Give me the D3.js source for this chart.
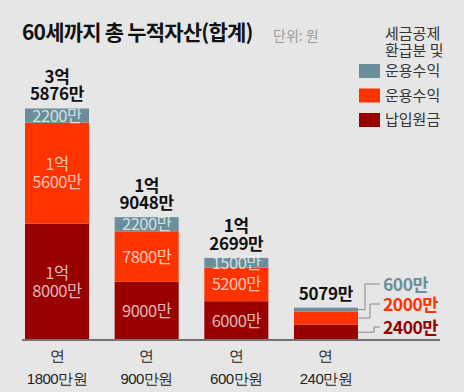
<!DOCTYPE html>
<html>
<head>
<meta charset="utf-8">
<script src="https://cdn.jsdelivr.net/npm/d3@7"></script>
<style>
  html, body { margin: 0; padding: 0; background: #e6e6e6; }
  svg { display: block; font-family: "Noto Sans CJK KR", "Noto Sans", sans-serif; }
</style>
</head>
<body>
<div id="chart"></div>
<script>
    const width = 464;
    const height = 392;

    // data (만원)
    const categories = ['1800만원', '900만원', '600만원', '240만원'];
    const principal  = [18000, 9000, 6000, 2400];   // 납입원금
    const returns    = [15600, 7800, 5200, 2000];   // 운용수익
    const refund     = [2200, 2200, 1500, 600];     // 세금공제 환급분 및 운용수익
    const totalLabels = [['3억', '5876만'], ['1억', '9048만'], ['1억', '2699만'], ['5079만']];

    const keys   = ['principal', 'returns', 'refund'];
    const colors = { principal: '#990000', returns: '#ff3300', refund: '#6b8e9b' };

    const rows = categories.map((c, i) => ({
      cat: c, principal: principal[i], returns: returns[i], refund: refund[i]
    }));

    const x = d3.scaleBand()
      .domain(categories)
      .range([25, 358])
      .paddingInner(0.286)
      .paddingOuter(0);

    const y = d3.scaleLinear()
      .domain([0, 35876])
      .range([340, 108]);

    const svg = d3.select('#chart')
      .append('svg')
      .attr('width', width)
      .attr('height', height);

    // title
    svg.append('text')
      .attr('x', 22).attr('y', 40)
      .attr('font-size', 21).attr('font-weight', 700)
      .attr('letter-spacing', -0.8)
      .attr('fill', '#111')
      .text('60세까지 총 누적자산(합계)');

    svg.append('text')
      .attr('x', 273).attr('y', 41)
      .attr('font-size', 14)
      .attr('fill', '#9a9a9a')
      .text('단위: 원');

    // stacked bars
    const series = d3.stack().keys(keys)(rows);

    const layer = svg.selectAll('.layer')
      .data(series)
      .join('g')
        .attr('class', 'layer')
        .attr('fill', d => colors[d.key]);

    layer.selectAll('rect')
      .data(d => d)
      .join('rect')
        .attr('x', d => x(d.data.cat))
        .attr('width', x.bandwidth())
        .attr('y', d => y(d[1]))
        .attr('height', d => y(d[0]) - y(d[1]));

    // labels inside the segments (not for the last, smallest bar)
    const fmt = v => v >= 10000 ? [`${Math.floor(v / 10000)}억`, `${v % 10000}만`] : [`${v}만`];

    series.forEach(s => {
      s.forEach((d, i) => {
        if (i === categories.length - 1) return;
        const lines = fmt(d.data[s.key]);
        const cy = (y(d[0]) + y(d[1])) / 2;
        const lh = 17.5;
        const t = svg.append('text')
          .attr('x', x(d.data.cat) + x.bandwidth() / 2)
          .attr('text-anchor', 'middle')
          .attr('font-size', 16.5)
          .attr('letter-spacing', -0.5)
          .attr('fill', '#fff')
          .attr('fill-opacity', 0.72);
        lines.forEach((ln, j) => {
          t.append('tspan')
            .attr('x', x(d.data.cat) + x.bandwidth() / 2)
            .attr('y', cy + 6 + (j - (lines.length - 1) / 2) * lh)
            .text(ln);
        });
      });
    });

    // totals above bars
    rows.forEach((r, i) => {
      const top = y(r.principal + r.returns + r.refund);
      const lines = totalLabels[i];
      lines.forEach((ln, j) => {
        svg.append('text')
          .attr('x', x(r.cat) + x.bandwidth() / 2)
          .attr('y', top - 8 - (lines.length - 1 - j) * 17.5)
          .attr('text-anchor', 'middle')
          .attr('font-size', 17).attr('font-weight', 700)
          .attr('letter-spacing', -0.3)
          .attr('fill', '#111')
          .text(ln);
      });
    });

    // callouts for the last bar
    const last = rows[rows.length - 1];
    const xr = x(last.cat) + x.bandwidth();
    const callouts = [
      { key: 'refund', ly: 284, bend: 365 },
      { key: 'returns', ly: 304, bend: 370 },
      { key: 'principal', ly: 327, bend: 374 }
    ];
    callouts.forEach(c => {
      const s = series.find(d => d.key === c.key)[rows.length - 1];
      const sy = (y(s[0]) + y(s[1])) / 2;
      svg.append('path')
        .attr('d', `M${xr},${sy}H${c.bend}V${c.ly}H380`)
        .attr('fill', 'none')
        .attr('stroke', '#888')
        .attr('stroke-width', 1);
      svg.append('text')
        .attr('x', 383).attr('y', c.ly + 6.5)
        .attr('font-size', 17.5).attr('font-weight', 700)
        .attr('letter-spacing', -0.5)
        .attr('fill', colors[c.key])
        .text(`${last[c.key]}만`);
    });

    // baseline
    svg.append('line')
      .attr('x1', 22).attr('x2', 440)
      .attr('y1', y(0)).attr('y2', y(0))
      .attr('stroke', '#737373')
      .attr('stroke-width', 2);

    // x axis labels
    const xAxis = svg.append('g')
      .attr('transform', `translate(0,${y(0)})`)
      .call(d3.axisBottom(x).tickSize(0).tickFormat(''));
    xAxis.select('.domain').remove();
    xAxis.selectAll('.tick').each(function (d) {
      const g = d3.select(this);
      g.append('text').attr('y', 21).attr('text-anchor', 'middle')
        .attr('font-size', 15).attr('fill', '#222').text('연');
      g.append('text').attr('y', 44).attr('text-anchor', 'middle')
        .attr('font-size', 15).attr('letter-spacing', -0.5).attr('fill', '#222').text(d);
    });

    // legend
    svg.append('text')
      .attr('x', 385).attr('y', 38.5)
      .attr('font-size', 15).attr('fill', '#333')
      .text('세금공제');
    svg.append('text')
      .attr('x', 385).attr('y', 56)
      .attr('font-size', 15).attr('fill', '#333')
      .text('환급분 및');

    const legendItems = [
      { key: 'refund', label: '운용수익' },
      { key: 'returns', label: '운용수익' },
      { key: 'principal', label: '납입원금' }
    ];
    const lg = svg.selectAll('.legend')
      .data(legendItems)
      .join('g')
        .attr('class', 'legend')
        .attr('transform', (d, i) => `translate(359,${64 + i * 24.5})`);
    lg.append('rect')
      .attr('width', 21).attr('height', 14)
      .attr('fill', d => colors[d.key]);
    lg.append('text')
      .attr('x', 26).attr('y', 12)
      .attr('font-size', 15).attr('fill', '#333')
      .text(d => d.label);
</script>
</body>
</html>
